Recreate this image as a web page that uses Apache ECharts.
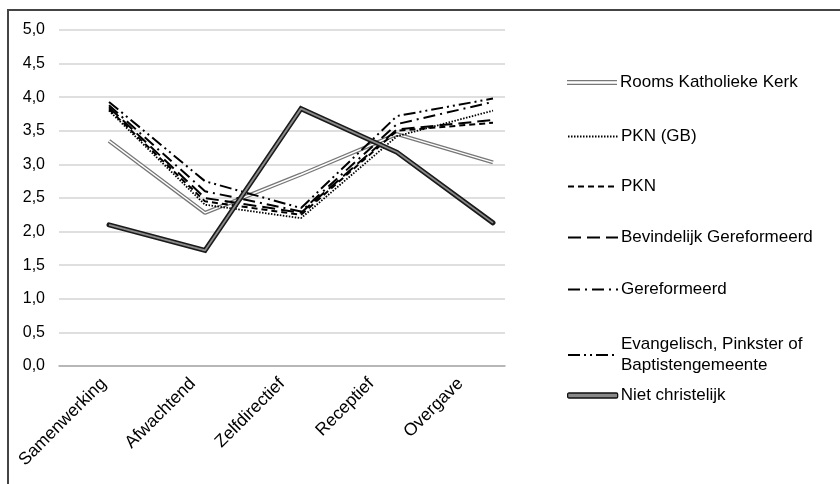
<!DOCTYPE html>
<html>
<head>
<meta charset="utf-8">
<script src="https://cdn.jsdelivr.net/npm/echarts@6/dist/echarts.min.js"></script>
<style>
  html, body { margin: 0; padding: 0; background: #fff; }
  #chart { width: 840px; height: 484px; }
</style>
</head>
<body>
<div id="chart"></div>
<script>
// categories on the x-axis
const categories = ["Samenwerking", "Afwachtend", "Zelfdirectief", "Receptief", "Overgave"];

// mean scores per group
const roomsKatholiek = [3.35, 2.28, 2.85, 3.45, 3.03];
const pknGB = [3.80, 2.40, 2.20, 3.42, 3.80];
const pkn = [3.82, 2.45, 2.25, 3.50, 3.62];
const bevindelijk = [3.85, 2.50, 2.28, 3.52, 3.66];
const gereformeerd = [3.88, 2.60, 2.30, 3.60, 3.93];
const evangelisch = [3.93, 2.75, 2.35, 3.72, 3.98];
const nietChristelijk = [2.10, 1.72, 3.83, 3.18, 2.13];

// y-axis ticks
const yMin = 0;
const yMax = 5;
const yStep = 0.5;

const FONT = "Liberation Sans, Arial, sans-serif";
const chart = echarts.init(document.getElementById("chart"), null, { renderer: "canvas" });

// helper: one legend per item so the irregular vertical spacing can be matched
const legendItem = (name, top, extra) => Object.assign({
  data: [name],
  orient: "vertical",
  left: 567,
  top: top,
  padding: 0,
  itemWidth: 50,
  itemHeight: 10,
  itemGap: 0,
  selectedMode: false,
  textStyle: { fontFamily: FONT, fontSize: 17, color: "#000", padding: [0, 0, 0, -2] },
}, extra);

// black patterned lines (itemStyle transparent so the legend shows only the line)
const blackLine = (name, data, dash, width) => ({
  name: name,
  type: "line",
  xAxisIndex: 1,
  yAxisIndex: 1,
  data: data,
  symbol: "none",
  lineStyle: { color: "#000", width: width, type: dash },
  itemStyle: { color: "rgba(0,0,0,0)", borderWidth: 0 },
  z: 3,
});

chart.setOption({
  animation: false,
  // frame round the figure
  graphic: [{
    type: "rect",
    shape: { x: 8, y: 10, width: 840, height: 480 },
    style: { fill: "none", stroke: "#444", lineWidth: 2 },
    silent: true,
  }],
  legend: [
    legendItem("Rooms Katholieke Kerk", 74, {
      itemHeight: 5,
      data: [{ name: "Rooms Katholieke Kerk", icon: "path://M0,0H50V1.3H0Z M0,3.7H50V5H0Z", itemStyle: { color: "#777" } }],
    }),
    legendItem("PKN (GB)", 128),
    legendItem("PKN", 178),
    legendItem("Bevindelijk Gereformeerd", 229),
    legendItem("Gereformeerd", 281),
    legendItem("Evangelisch, Pinkster of\nBaptistengemeente", 334, {
      textStyle: { fontFamily: FONT, fontSize: 17, color: "#000", lineHeight: 21, padding: [0, 0, 0, -2] },
    }),
    legendItem("Niet christelijk", 387, {
      itemHeight: 5,
      data: [{ name: "Niet christelijk", icon: "roundRect", itemStyle: { color: "#888", borderColor: "#111", borderWidth: 1.3 } }],
    }),
  ],
  // grid 0: axes and labels; grid 1: where the data points sit
  grid: [
    { left: 59, top: 30, width: 446, height: 336 },
    { left: 109, top: 30, width: 384, height: 336 },
  ],
  xAxis: [
    {
      type: "category",
      gridIndex: 0,
      data: categories,
      boundaryGap: true,
      axisLine: { lineStyle: { color: "#aaa", width: 1.5 } },
      axisTick: { alignWithLabel: true, length: 5, lineStyle: { color: "#aaa", width: 1.5 } },
      axisLabel: { rotate: 45, margin: 15, fontFamily: FONT, fontSize: 17.5, color: "#000", interval: 0 },
    },
    {
      type: "category",
      gridIndex: 1,
      data: categories,
      boundaryGap: false,
      show: false,
    },
  ],
  yAxis: [
    {
      type: "value",
      gridIndex: 0,
      min: yMin,
      max: yMax,
      interval: yStep,
      axisLine: { show: false },
      axisTick: { show: false },
      axisLabel: {
        margin: 14,
        fontFamily: FONT,
        fontSize: 16,
        color: "#000",
        formatter: (v) => v.toFixed(1).replace(".", ","),
      },
      splitLine: { lineStyle: { color: "#d4d4d4", width: 1.5 } },
    },
    {
      type: "value",
      gridIndex: 1,
      min: yMin,
      max: yMax,
      interval: yStep,
      show: false,
      splitLine: { show: false },
    },
  ],
  series: [
    // double gray line: wide gray under a thin white core
    {
      name: "Rooms Katholieke Kerk",
      type: "line",
      xAxisIndex: 1,
      yAxisIndex: 1,
      data: roomsKatholiek,
      symbol: "none",
      lineStyle: { color: "#777", width: 4 },
      itemStyle: { color: "#777" },
      z: 2,
    },
    {
      name: "rk-core",
      type: "line",
      xAxisIndex: 1,
      yAxisIndex: 1,
      data: roomsKatholiek,
      symbol: "none",
      lineStyle: { color: "#fff", width: 1.4 },
      z: 2,
    },
    blackLine("PKN (GB)", pknGB, [1.5, 1.5], 1.8),
    blackLine("PKN", pkn, [6, 4], 2),
    blackLine("Bevindelijk Gereformeerd", bevindelijk, [13, 6], 2),
    blackLine("Gereformeerd", gereformeerd, [12, 5, 2, 5], 2),
    blackLine("Evangelisch, Pinkster of\nBaptistengemeente", evangelisch, [12, 4, 2, 4, 2, 4], 2),
    // dark outlined line with gray core
    {
      name: "Niet christelijk",
      type: "line",
      xAxisIndex: 1,
      yAxisIndex: 1,
      data: nietChristelijk,
      symbol: "none",
      lineStyle: { color: "#1a1a1a", width: 5, cap: "round", join: "miter" },
      itemStyle: { color: "#888" },
      z: 4,
    },
    {
      name: "nc-core",
      type: "line",
      xAxisIndex: 1,
      yAxisIndex: 1,
      data: nietChristelijk,
      symbol: "none",
      lineStyle: { color: "#8a8a8a", width: 1.8 },
      z: 4,
    },
  ],
});
</script>
</body>
</html>
